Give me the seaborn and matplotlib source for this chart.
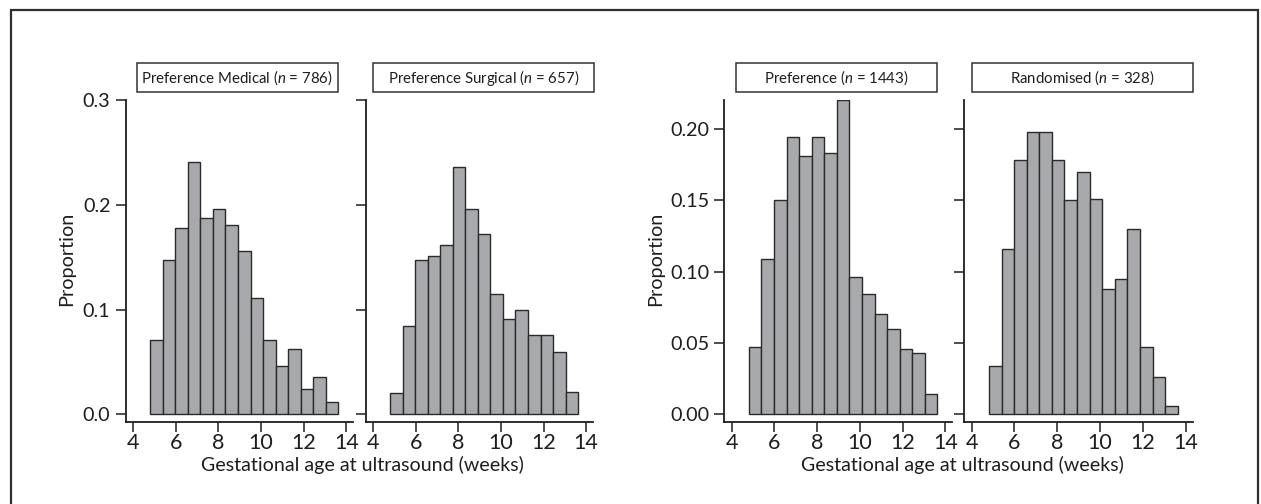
import numpy as np
import pandas as pd
import matplotlib
matplotlib.use("Agg")
import matplotlib.pyplot as plt
from matplotlib.patches import Rectangle
import seaborn as sns

# ---- data (proportions per bin) ----
bin_lo, bin_hi, n_bins = 4.81, 13.62, 15
bin_edges = np.linspace(bin_lo, bin_hi, n_bins + 1)
bin_centers = (bin_edges[:-1] + bin_edges[1:]) / 2

pref_medical = [0.071, 0.147, 0.178, 0.241, 0.187, 0.196, 0.181, 0.156,
                0.111, 0.071, 0.046, 0.062, 0.024, 0.036, 0.012]
pref_surgical = [0.020, 0.084, 0.147, 0.151, 0.162, 0.236, 0.196, 0.172,
                 0.115, 0.091, 0.100, 0.076, 0.076, 0.059, 0.021]
preference = [0.047, 0.109, 0.150, 0.194, 0.181, 0.194, 0.183, 0.220,
              0.096, 0.084, 0.070, 0.060, 0.0455, 0.043, 0.014]
randomised = [0.034, 0.1155, 0.178, 0.198, 0.198, 0.178, 0.150, 0.170,
              0.151, 0.088, 0.095, 0.1295, 0.047, 0.026, 0.006]

titles = ["Preference Medical ($n$ = 786)", "Preference Surgical ($n$ = 657)",
          "Preference ($n$ = 1443)", "Randomised ($n$ = 328)"]
x_ticks = [4, 6, 8, 10, 12, 14]
y_ticks_left = [0.0, 0.1, 0.2, 0.3]
y_labels_left = ["0.0", "0.1", "0.2", "0.3"]
y_ticks_right = [0.00, 0.05, 0.10, 0.15, 0.20]
y_labels_right = ["0.00", "0.05", "0.10", "0.15", "0.20"]
x_label = "Gestational age at ultrasound (weeks)"
y_label = "Proportion"

# ---- style ----
sns.set_style("ticks")
plt.rcParams['font.family'] = ['Lato', 'DejaVu Sans']
plt.rcParams['mathtext.fontset'] = 'custom'
plt.rcParams['mathtext.rm'] = 'Lato'
plt.rcParams['mathtext.it'] = 'Lato:italic'

W, H = 1261, 504
fig = plt.figure(figsize=(W / 100, H / 100), dpi=100)
fig.patch.set_facecolor("white")

BAR = "#a7a9ac"
EDGE = "#2a2a2a"
INK = "#1e1e1e"

def add_ax(l, r, t=100, b=421.5):
    return fig.add_axes([l / W, 1 - b / H, (r - l) / W, (b - t) / H])

panels = [
    (125.7, 353.3, pref_medical, (-0.0069, 0.3), y_ticks_left, y_labels_left, True, (137, 337.7)),
    (365.7, 593.0, pref_surgical, (-0.0069, 0.3), y_ticks_left, y_labels_left, False, (373, 594.3)),
    (724.3, 952.3, preference, (-0.0050, 0.2201), y_ticks_right, y_labels_right, True, (736, 936.7)),
    (964.3, 1192.7, randomised, (-0.0050, 0.2201), y_ticks_right, y_labels_right, False, (972, 1193.3)),
]

for i, (l, r, vals, ylim, yt, ylab, showy, box) in enumerate(panels):
    ax = add_ax(l, r)
    df = pd.DataFrame({"age": bin_centers, "prop": vals})
    sns.histplot(data=df, x="age", weights="prop", bins=n_bins, binrange=(bin_lo, bin_hi),
                 stat="count", color=BAR, edgecolor=EDGE, linewidth=1.0, alpha=1.0, ax=ax)
    ax.set_xlim(3.66, 14.32)
    ax.set_ylim(*ylim)
    ax.set_xticks(x_ticks)
    ax.set_xticklabels([str(v) for v in x_ticks], fontsize=15.5)
    ax.set_yticks(yt)
    if showy:
        ax.set_yticklabels(ylab, fontsize=14.2)
    else:
        ax.set_yticklabels([])
    ax.set_xlabel("")
    ax.set_ylabel("")
    sns.despine(ax=ax)
    for s in ("left", "bottom"):
        ax.spines[s].set_color(INK)
        ax.spines[s].set_linewidth(1.3)
    ax.tick_params(direction="out", length=7, width=1.1, color=INK, labelcolor=INK)
    ax.tick_params(axis="x", pad=1.5)
    ax.tick_params(axis="y", pad=4)
    ax.set_facecolor("white")
    # title box
    bl, br = box
    fig.add_artist(Rectangle((bl / W, 1 - 92.3 / H), (br - bl) / W, 29.6 / H,
                             transform=fig.transFigure, fill=False, ec="#333333", lw=1.1))
    fig.text((bl + br) / 2 / W, 1 - 77.5 / H, titles[i], ha="center", va="center",
             fontsize=10.8, color=INK)

# shared axis labels
fig.text(362 / W, 1 - 465 / H, x_label, ha="center", va="center", fontsize=14.1, color=INK)
fig.text(962 / W, 1 - 465 / H, x_label, ha="center", va="center", fontsize=14.1, color=INK)
fig.text(67 / W, 1 - 259 / H, y_label, ha="center", va="center", rotation=90, fontsize=14.3, color=INK)
fig.text(655.5 / W, 1 - 259 / H, y_label, ha="center", va="center", rotation=90, fontsize=14.3, color=INK)

# outer frame (open at bottom)
fig.add_artist(Rectangle((11 / W, -0.1), (1258 - 11) / W, 1.1 - 10.5 / H,
                         transform=fig.transFigure, fill=False, ec="#2e2e2e", lw=1.6, clip_on=False))

fig.savefig("out.png", dpi=100, facecolor="white")
